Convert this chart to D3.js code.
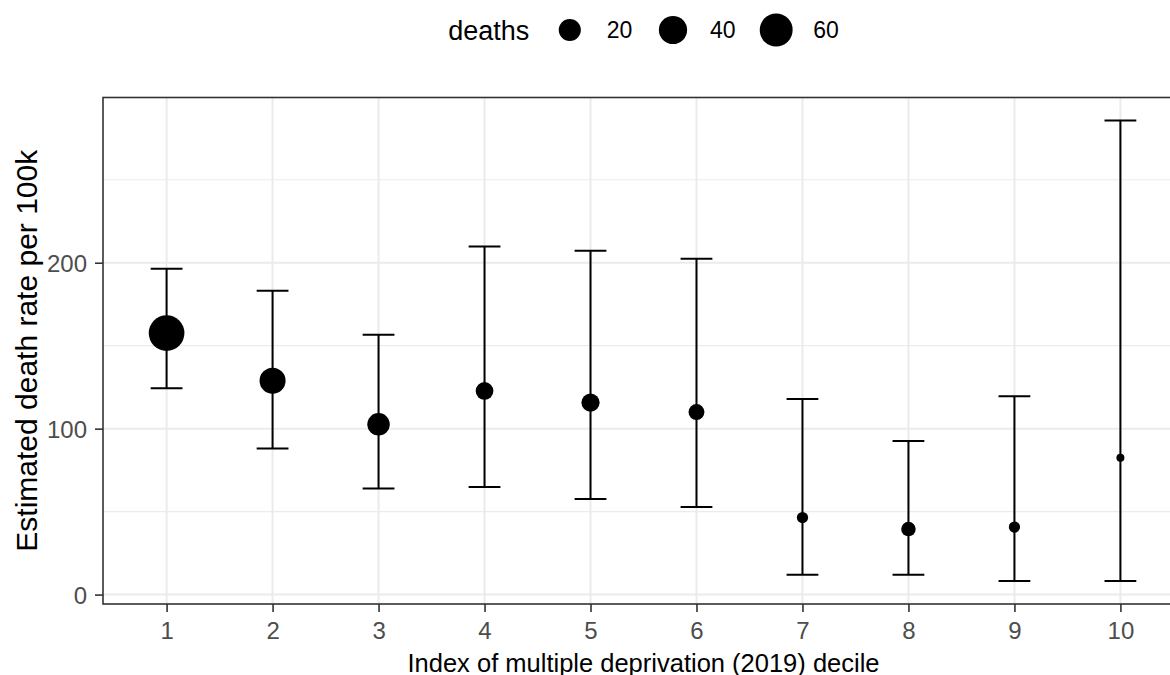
<!DOCTYPE html>
<html>
<head>
<meta charset="utf-8">
<script src="https://cdn.jsdelivr.net/npm/d3@7"></script>
<style>
  html, body { margin: 0; padding: 0; background: #ffffff; }
  svg { display: block; font-family: "Liberation Sans", Arial, Helvetica, sans-serif; }
</style>
</head>
<body>
<svg id="chart" width="1170" height="675"></svg>
<script>
// ---- data ----
const deciles = ["1", "2", "3", "4", "5", "6", "7", "8", "9", "10"];
const rate    = [157.6, 128.9, 102.6, 122.7, 115.7, 110.0, 46.4, 39.5, 40.7, 82.5];
const lower   = [124.3, 88.0, 63.9, 64.8, 57.6, 52.8, 12.0, 12.0, 8.2, 8.2];
const upper   = [196.4, 183.1, 156.6, 209.8, 207.2, 202.4, 117.8, 92.5, 119.5, 285.7];
const deaths  = [74, 32, 21, 10, 11, 7, 2, 5, 2, 1];
const yTicks  = [0, 100, 200];
const yMinor  = [50, 150, 250];
const sizeBreaks = [20, 40, 60];
const legendTitle = "deaths";
const xTitle = "Index of multiple deprivation (2019) decile";
const yTitle = "Estimated death rate per 100k";

const rows = deciles.map((d, i) => ({ decile: d, rate: rate[i], lower: lower[i], upper: upper[i], deaths: deaths[i] }));

// ---- layout ----
const panel = { left: 103, top: 97.5, right: 1184, bottom: 604 };
const svg = d3.select("#chart");

const x = d3.scalePoint().domain(deciles).range([panel.left, panel.right]).padding(0.6);
const lo = d3.min(lower), hi = d3.max(upper), ex = (hi - lo) * 0.05;
const y = d3.scaleLinear().domain([lo - ex, hi + ex]).range([panel.bottom, panel.top]);

const dExt = d3.extent(deaths);
const rMin = 4, rMax = 17.85;
const rS = d3.scaleSqrt().domain([0, dExt[1] - dExt[0]]).range([rMin, rMax]);
const radius = d => rS(Math.max(0, d - dExt[0]));

// ---- panel grid ----
const grid = svg.append("g");
grid.selectAll("line.minor").data(yMinor).join("line")
  .attr("x1", panel.left).attr("x2", panel.right)
  .attr("y1", d => y(d)).attr("y2", d => y(d))
  .attr("stroke", "#EBEBEB").attr("stroke-width", 1.2);
grid.selectAll("line.majy").data(yTicks).join("line")
  .attr("x1", panel.left).attr("x2", panel.right)
  .attr("y1", d => y(d)).attr("y2", d => y(d))
  .attr("stroke", "#EBEBEB").attr("stroke-width", 2);
grid.selectAll("line.majx").data(deciles).join("line")
  .attr("x1", d => x(d)).attr("x2", d => x(d))
  .attr("y1", panel.top).attr("y2", panel.bottom)
  .attr("stroke", "#EBEBEB").attr("stroke-width", 2);

// ---- error bars ----
const capW = x.step() * 0.3;
const eb = svg.append("g").attr("stroke", "#000").attr("stroke-width", 2).attr("fill", "none");
eb.selectAll("line.v").data(rows).join("line")
  .attr("x1", d => x(d.decile)).attr("x2", d => x(d.decile))
  .attr("y1", d => y(d.lower)).attr("y2", d => y(d.upper));
eb.selectAll("line.t").data(rows).join("line")
  .attr("x1", d => x(d.decile) - capW / 2).attr("x2", d => x(d.decile) + capW / 2)
  .attr("y1", d => y(d.upper)).attr("y2", d => y(d.upper));
eb.selectAll("line.b").data(rows).join("line")
  .attr("x1", d => x(d.decile) - capW / 2).attr("x2", d => x(d.decile) + capW / 2)
  .attr("y1", d => y(d.lower)).attr("y2", d => y(d.lower));

// ---- points ----
svg.append("g").selectAll("circle").data(rows).join("circle")
  .attr("cx", d => x(d.decile)).attr("cy", d => y(d.rate))
  .attr("r", d => radius(d.deaths)).attr("fill", "#000");

// ---- panel border ----
svg.append("rect")
  .attr("x", panel.left).attr("y", panel.top)
  .attr("width", panel.right - panel.left).attr("height", panel.bottom - panel.top)
  .attr("fill", "none").attr("stroke", "#333333").attr("stroke-width", 1.6);

// ---- axes ----
const yAxis = svg.append("g").attr("transform", `translate(${panel.left},0)`)
  .call(d3.axisLeft(y).tickValues(yTicks).tickSize(8).tickPadding(8));
const xAxis = svg.append("g").attr("transform", `translate(0,${panel.bottom})`)
  .call(d3.axisBottom(x).tickValues(deciles).tickSize(8).tickPadding(10));
[yAxis, xAxis].forEach(a => {
  a.select(".domain").remove();
  a.selectAll(".tick line").attr("stroke", "#333333").attr("stroke-width", 1.6);
  a.selectAll(".tick text").attr("fill", "#4D4D4D").style("font-size", "24px")
    .style("font-family", "'Liberation Sans', Arial, sans-serif");
});
yAxis.selectAll(".tick text").attr("dy", "0.36em");
xAxis.selectAll(".tick text").attr("dy", "0.71em");

// ---- titles ----
svg.append("text")
  .attr("x", (panel.left + panel.right) / 2).attr("y", 671.5)
  .attr("text-anchor", "middle").style("font-size", "25.5px").attr("fill", "#000")
  .text(xTitle);
svg.append("text")
  .attr("transform", `translate(36.5,${(panel.top + panel.bottom) / 2}) rotate(-90)`)
  .attr("text-anchor", "middle").style("font-size", "30px").attr("fill", "#000")
  .text(yTitle);

// ---- legend ----
const lg = svg.append("g");
const ly = 30;
const tTitle = lg.append("text").attr("y", ly).attr("dy", "0.36em")
  .style("font-size", "27px").attr("fill", "#000").text(legendTitle);
const labels = sizeBreaks.map(b => lg.append("text").attr("y", ly).attr("dy", "0.36em")
  .style("font-size", "23px").attr("fill", "#000").text(String(b)));
const titleW = tTitle.node().getComputedTextLength();
const labW = labels.map(l => l.node().getComputedTextLength());
const gapTitleKey = 40.5, gapKeyLab = 37, gapLabKey = 40.6;
const total = titleW + gapTitleKey + sizeBreaks.length * gapKeyLab + d3.sum(labW) + (sizeBreaks.length - 1) * gapLabKey;
let cx = (panel.left + panel.right) / 2 - total / 2;
tTitle.attr("x", cx);
cx += titleW + gapTitleKey;
sizeBreaks.forEach((b, i) => {
  lg.append("circle").attr("cx", cx).attr("cy", ly).attr("r", radius(b)).attr("fill", "#000");
  labels[i].attr("x", cx + gapKeyLab);
  cx += gapKeyLab + labW[i] + gapLabKey;
});
</script>
</body>
</html>
